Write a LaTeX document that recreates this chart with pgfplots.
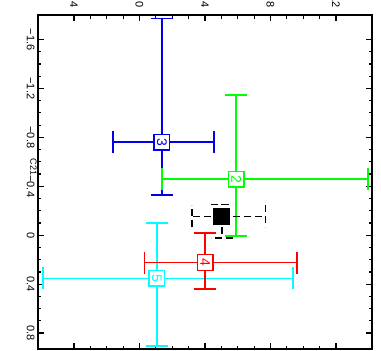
\documentclass[border=0pt]{standalone}
\usepackage{fontspec}
\setmainfont{Liberation Sans}
\usepackage{pgfplots}
\pgfplotsset{compat=1.18}
\definecolor{cblue}{RGB}{0,0,235}
\definecolor{cgreen}{RGB}{0,255,0}
\definecolor{cred}{RGB}{255,0,0}
\definecolor{ccyan}{RGB}{0,255,255}
\pgfplotsset{
  lab/.style 2 args={nodes near coords={#2},
    every node near coord/.append style={anchor=center, rotate=-90, text=#1,
      font=\fontsize{14}{14}\selectfont, inner sep=0pt}},
}
\begin{document}
\begin{tikzpicture}
\useasboundingbox (-38pt,-2pt) rectangle (343pt,349pt);
\clip (-38pt,-2pt) rectangle (343pt,349pt);
\begin{axis}[
  at={(0pt,0pt)}, anchor=south west,
  scale only axis, width=334pt, height=334pt,
  xmin=-6.2, xmax=14.2, ymin=-1.8, ymax=0.93, y dir=reverse,
  xtick={-4,0,4,8,12}, xticklabels={−4,0,4,8,12}, minor x tick num=3,
  ytick={-1.6,-1.2,-0.8,-0.4,0,0.4,0.8},
  yticklabels={−1.6,−1.2,−0.8,−0.4,0,0.4,0.8}, minor y tick num=3,
  tick align=inside, major tick length=6pt, minor tick length=3.5pt,
  xticklabel pos=upper, xticklabel shift=4pt,
  xticklabel style={rotate=-90, anchor=east, font=\fontsize{11}{13}\selectfont},
  yticklabel style={rotate=-90, anchor=north, font=\fontsize{11}{13}\selectfont},
  axis line style={line width=1.3pt},
  every tick/.style={black, line width=1.2pt},
]
% blue (3)
\addplot[only marks, color=cblue, mark=square*, mark size=7.8pt,
  mark options={fill=white, draw=cblue, line width=1.4pt, solid}, lab={cblue}{3},
  error bars/.cd, x dir=both, x explicit, y dir=both, y explicit,
  error bar style={line width=1.5pt, cblue, solid},
  error mark options={rotate=90, mark size=11pt, line width=1.5pt, cblue, solid}]
  table[x=x, y=y, x error plus=xp, x error minus=xm, y error plus=yp, y error minus=ym] {
x y xm xp ym yp
1.37 -0.761 2.98 3.19 1.010 0.434
};
% green (2)
\addplot[only marks, color=cgreen, mark=square*, mark size=7.8pt,
  mark options={fill=white, draw=cgreen, line width=1.5pt, solid}, lab={cgreen}{2},
  error bars/.cd, x dir=both, x explicit, y dir=both, y explicit,
  error bar style={line width=2pt, cgreen, solid},
  error mark options={rotate=90, mark size=11pt, line width=2pt, cgreen, solid}]
  table[x=x, y=y, x error plus=xp, x error minus=xm, y error plus=yp, y error minus=ym] {
x y xm xp ym yp
5.91 -0.457 4.54 8.04 0.686 0.465
};
% cyan (5)
\addplot[only marks, color=ccyan, mark=square*, mark size=7.8pt,
  mark options={fill=white, draw=ccyan, line width=1.5pt, solid}, lab={ccyan}{5},
  error bars/.cd, x dir=both, x explicit, y dir=both, y explicit,
  error bar style={line width=1.8pt, ccyan, solid},
  error mark options={rotate=90, mark size=11pt, line width=1.8pt, ccyan, solid}]
  table[x=x, y=y, x error plus=xp, x error minus=xm, y error plus=yp, y error minus=ym] {
x y xm xp ym yp
1.06 0.353 6.96 8.33 0.453 0.553
};
% red (4)
\addplot[only marks, color=cred, mark=square*, mark size=7.8pt,
  mark options={fill=white, draw=cred, line width=1.4pt, solid}, lab={cred}{4},
  error bars/.cd, x dir=both, x explicit, y dir=both, y explicit,
  error bar style={line width=1.5pt, cred, solid},
  error mark options={rotate=90, mark size=11pt, line width=1.5pt, cred, solid}]
  table[x=x, y=y, x error plus=xp, x error minus=xm, y error plus=yp, y error minus=ym] {
x y xm xp ym yp
4.01 0.223 3.72 5.62 0.242 0.218
};
% black mean
\addplot[only marks, color=black, mark=square*, mark size=7.8pt,
  mark options={fill=black, draw=black, line width=1.3pt, solid},
  error bars/.cd, x dir=both, x explicit, y dir=both, y explicit,
  error bar style={line width=1.4pt, black, dash pattern=on 7pt off 4pt},
  error mark options={rotate=90, mark size=11pt, line width=1.4pt, black, dash pattern=on 7pt off 4pt}]
  table[x=x, y=y, x error plus=xp, x error minus=xm, y error plus=yp, y error minus=ym] {
x y xm xp ym yp
5.03 -0.155 1.83 2.65 0.098 0.177
};
\end{axis}
\node[rotate=-90, font=\fontsize{9}{9}\selectfont, anchor=center] at (-4.5pt,182pt) {C21};
\end{tikzpicture}
\end{document}
